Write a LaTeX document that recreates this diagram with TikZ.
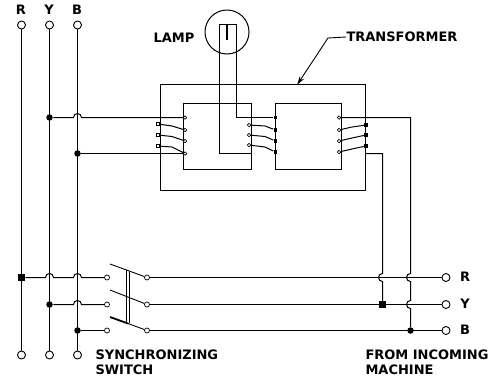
\documentclass[tikz,border=0pt]{standalone}
\usepackage{fontspec}
\usetikzlibrary{arrows.meta}
\newfontfamily\lblfont{DejaVu Sans Bold}
\tikzset{
	wire/.style={line width=1pt},
	term/.style={draw, line width=0.9pt, circle, fill=white, inner sep=0pt, minimum size=8pt},
	dotnode/.style={fill=black, circle, inner sep=0pt, minimum size=6.5pt},
	sqnode/.style={fill=black, inner sep=0pt, minimum size=6.5pt},
	tapc/.style={draw, line width=0.7pt, circle, fill=white, inner sep=0pt, minimum size=3.5pt},
	tapo/.style={draw, line width=0.7pt, fill=white, inner sep=0pt, minimum size=3.5pt},
	tapf/.style={fill=black, inner sep=0pt, minimum size=3.5pt},
	core/.style={draw, line width=1pt, inner sep=0pt, outer sep=0pt},
	lbl/.style={inner sep=0pt, font=\lblfont\fontsize{13}{13}\selectfont},
}

\begin{document}
\begin{tikzpicture}[x=1pt, y=-1pt, wire]
	\useasboundingbox (0,0) rectangle (497,378);
	% core and windows
	\node[core, minimum width=205pt, minimum height=106pt] (frame) at (263,137.5) {};
	\node[core, minimum width=68pt, minimum height=66pt] (winL) at (217.5,136.5) {};
	\node[core, minimum width=66pt, minimum height=66pt] (winR) at (308.5,136.5) {};
	\node[core, circle, minimum size=44pt] (lamp) at (227,32) {};
	% bus terminals
	\node[term] (tR) at (21.5,25) {};
	\node[term] (tY) at (49.5,25) {};
	\node[term] (tB) at (77.5,25) {};
	\node[term] (bR) at (21.5,355) {};
	\node[term] (bY) at (49.5,355) {};
	\node[term] (bB) at (77.5,355) {};
	\node[lbl] (lR) at (21,10) {R};
	\node[lbl] (lY) at (49,10) {Y};
	\node[lbl] (lB) at (77,10) {B};
	\node[sqnode] (jR) at (21.5,277.5) {};
	\node[dotnode] (jY) at (49.5,117.5) {};
	\node[dotnode] (jY2) at (49.5,304.5) {};
	\node[dotnode] (jB) at (77.5,153.5) {};
	\node[dotnode] (jB2) at (77.5,330.5) {};
	\draw (tR) -- (bR);
	\draw (tY) -- (bY);
	\draw (tB) -- (bB);
	% left coil
	\node[tapo] (pa) at (158,124) {};
	\node[tapo] (pb) at (158,135) {};
	\node[tapo] (pc) at (158,146) {};
	\node[tapc] (pw) at (185,117.5) {};
	\node[tapc] (px) at (185,130) {};
	\node[tapc] (py) at (185,141) {};
	\node[tapc] (pz) at (185,153.5) {};
	\draw (jY) -- ++(24,0) arc[start angle=180, end angle=360, radius=4] -- (pw);
	\draw (jB) -- (pz);
	\draw (pa) -- (172,126) -- (px);
	\draw (pb) -- (172,136.5) -- (py);
	\draw (pc) -- (172,147) -- (pz);
	% middle coil
	\node[tapc] (ma) at (249,125) {};
	\node[tapc] (mb) at (249,135) {};
	\node[tapc] (mc) at (249,145) {};
	\node[tapf] (mw) at (275.5,117.5) {};
	\node[tapf] (mx) at (275.5,130) {};
	\node[tapf] (my) at (275.5,141) {};
	\node[tapf] (mz) at (275.5,152) {};
	\draw (ma) -- (265,126) -- (mx);
	\draw (mb) -- (265,136.5) -- (my);
	\draw (mc) -- (265,147) -- (mz);
	% lamp
	\coordinate (lampL) at (219.5,24.5);
	\coordinate (lampR) at (236.5,24.5);
	\coordinate (lampS) at (227,24.5);
	\coordinate (lampE) at (227,40);
	\coordinate (lampB) at (219.5,153.5);
	\coordinate (lampC) at (251.5,153.5);
	\coordinate (lampD) at (236.5,117.5);
	\draw (lampC) -- (lampB) -- (lampL) -- (lampR) -- (lampD) -- (mw);
	\draw[line width=2pt] (lampS) -- (lampE);
	\node[lbl, anchor=west] (lampText) at (153,38) {LAMP};
	% right coil
	\node[tapc] (sw) at (339,117.5) {};
	\node[tapc] (sx) at (339,130) {};
	\node[tapc] (sy) at (339,141) {};
	\node[tapc] (sz) at (339,152) {};
	\node[tapf] (sa) at (366,125) {};
	\node[tapf] (sb) at (366,135) {};
	\node[tapf] (sc) at (366,146) {};
	\coordinate (out) at (365.5,153.5);
	\draw (sx) -- (352,127) -- (sa);
	\draw (sy) -- (352,138) -- (sb);
	\draw (sz) -- (352,149) -- (sc);
	% transformer leader
	\node[lbl, anchor=west] (xfmrText) at (346,37) {TRANSFORMER};
	\coordinate (bend) at (328,38);
	\coordinate (tip) at (297,85);
	\draw[-{Stealth[length=9pt, width=5pt]}, line width=0.9pt] (xfmrText.west) -- (bend) -- (tip);
	% switch
	\node[tapc, minimum size=5pt] (sL1) at (107,277.5) {};
	\node[tapc, minimum size=5pt] (sL2) at (107,304.5) {};
	\node[tapc, minimum size=5pt] (sL3) at (107,330.5) {};
	\node[tapc, minimum size=5pt] (sR1) at (147,277.5) {};
	\node[tapc, minimum size=5pt] (sR2) at (147,304.5) {};
	\node[tapc, minimum size=5pt] (sR3) at (147,330.5) {};
	\coordinate (blA) at (110,264);
	\coordinate (blB) at (110,290);
	\coordinate (blC) at (110,317);
	\coordinate (blD) at (128,323.5);
	\draw[line width=0.9pt] (sR1) -- (blA);
	\draw[line width=0.9pt] (sR2) -- (blB);
	\draw[line width=0.9pt] (sR3) -- (blD);
	\draw[line width=1.8pt] (blD) -- (blC);
	\draw[line width=0.9pt] (126,270) -- (126,322);
	\draw[line width=0.9pt] (129,271) -- (129,323);
	\draw (jR) -- ++(24,0) arc[start angle=180, end angle=360, radius=4] -- ++(20,0) arc[start angle=180, end angle=360, radius=4] -- (sL1);
	\draw (jY2) -- ++(24,0) arc[start angle=180, end angle=360, radius=4] -- (sL2);
	\draw (jB2) -- (sL3);
	% incoming side
	\node[term] (iR) at (446,277.5) {};
	\node[term] (iY) at (446,304.5) {};
	\node[term] (iB) at (446,330.5) {};
	\node[lbl] (iRText) at (465,277) {R};
	\node[lbl] (iYText) at (465,304) {Y};
	\node[lbl] (iBText) at (465,330) {B};
	\node[sqnode] (jYr) at (382.5,304.5) {};
	\node[dotnode] (jBr) at (410.5,330.5) {};
	\draw (sR1) -- (iR);
	\draw (sR2) -- (iY);
	\draw (sR3) -- (iB);
	\draw (sw) -- ++(71.5,0) -- ++(0,156) arc[start angle=270, end angle=90, radius=4] -- ++(0,19) arc[start angle=270, end angle=90, radius=4] -- (jBr);
	\draw (out) -- ++(17,0) -- ++(0,120) arc[start angle=270, end angle=90, radius=4] -- (jYr);
	\node[lbl, anchor=west] (synText) at (95,355) {SYNCHRONIZING};
	\node[lbl, anchor=west] (swText) at (95,370) {SWITCH};
	\node[lbl, anchor=west] (fromText) at (365,355) {FROM INCOMING};
	\node[lbl, anchor=west] (macText) at (365,370) {MACHINE};
\end{tikzpicture}
\end{document}
